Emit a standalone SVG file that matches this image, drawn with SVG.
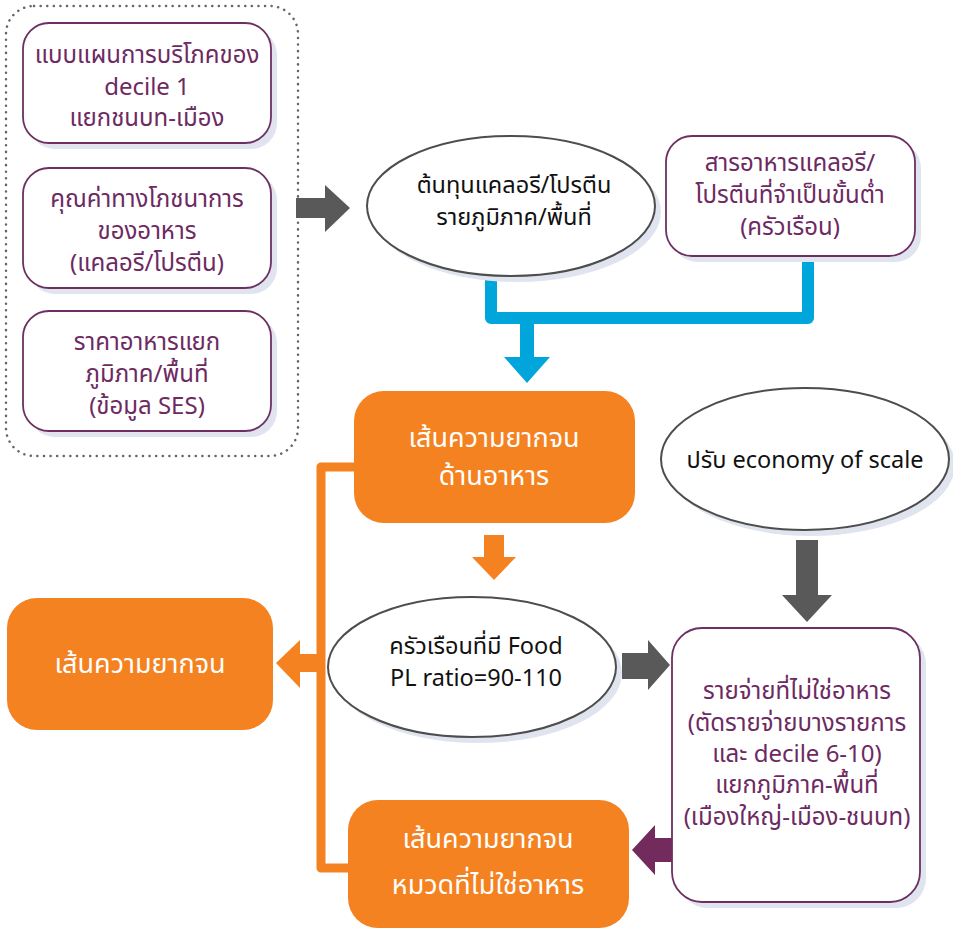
<svg xmlns="http://www.w3.org/2000/svg" width="953" height="930" viewBox="0 0 953 930">
<style>
.pbox{fill:#fff;stroke:#6d2f63;stroke-width:1.8}
.shadow{fill:#dfe4ee}
.ell{fill:#fff;stroke:#4d4d4d;stroke-width:2}
.obox{fill:#f58220}
.t{font-family:"Noto Sans Thai","Noto Sans","Liberation Sans",sans-serif;text-anchor:middle}
.tp{fill:#6d2a62;font-size:24px}
.tb{fill:#111;font-size:23.5px}
.tw{fill:#fff;font-size:27px}
</style>
<rect width="953" height="930" fill="#fff"/>
<g id="container">
<rect x="6" y="6" width="292" height="450" rx="28" fill="none" stroke="#666" stroke-width="2.5" stroke-linecap="round" stroke-dasharray="0.1 6.5"/>
</g>
<g id="n1">
<rect class="shadow" x="29" y="29" width="248" height="120" rx="26"/>
<rect class="pbox" x="23" y="23" width="248" height="120" rx="26"/>
<text class="t tp" x="147" y="63">แบบแผนการบริโภคของ</text>
<text class="t tp" x="147" y="95">decile 1</text>
<text class="t tp" x="147" y="126">แยกชนบท-เมือง</text>
</g>
<g id="n2">
<rect class="shadow" x="29" y="174" width="248" height="120" rx="26"/>
<rect class="pbox" x="23" y="168" width="248" height="120" rx="26"/>
<text class="t tp" x="147" y="207">คุณค่าทางโภชนาการ</text>
<text class="t tp" x="147" y="239">ของอาหาร</text>
<text class="t tp" x="147" y="271">(แคลอรี/โปรตีน)</text>
</g>
<g id="n3">
<rect class="shadow" x="29" y="317" width="248" height="120" rx="26"/>
<rect class="pbox" x="23" y="311" width="248" height="120" rx="26"/>
<text class="t tp" x="147" y="350">ราคาอาหารแยก</text>
<text class="t tp" x="147" y="382">ภูมิภาค/พื้นที่</text>
<text class="t tp" x="147" y="414">(ข้อมูล SES)</text>
</g>
<g id="connectors">
<polygon fill="#595959" points="296,198 325,198 325,185 350,208 325,232 325,218 296,218"/>
<polyline fill="none" stroke="#00a5dc" stroke-width="12" stroke-linejoin="round" points="491,276 491,318 808,318 808,256"/>
<polygon fill="#00a5dc" points="520,318 534,318 534,357 550,357 527,383 504,357 520,357"/>
<polygon fill="#f58220" points="484,535 504,535 504,557 516,557 494,580 472,557 484,557"/>
<polyline fill="none" stroke="#f58220" stroke-width="9" stroke-linejoin="round" points="356,467 321,467 321,868 352,868"/>
<polygon fill="#f58220" points="321,654 300,654 300,640 276,663 300,688 300,672 321,672"/>
<polygon fill="#595959" points="622,653 648,653 648,640 670,665 648,690 648,679 622,679"/>
<polygon fill="#595959" points="796,540 818,540 818,595 832,595 807,622 782,595 796,595"/>
<polygon fill="#722b5c" points="672,838 655,838 655,825 632,850 655,875 655,862 672,862"/>
</g>
<g id="n4">
<ellipse class="shadow" cx="517" cy="212" rx="144" ry="70"/>
<ellipse class="ell" cx="511" cy="206" rx="144" ry="70"/>
<text class="t tb" x="514" y="193">ต้นทุนแคลอรี/โปรตีน</text>
<text class="t tb" x="514" y="225">รายภูมิภาค/พื้นที่</text>
</g>
<g id="n5">
<rect class="shadow" x="672" y="142" width="249" height="120" rx="26"/>
<rect class="pbox" x="666" y="136" width="249" height="120" rx="26"/>
<text class="t tp" x="790" y="171">สารอาหารแคลอรี/</text>
<text class="t tp" x="790" y="203">โปรตีนที่จำเป็นขั้นต่ำ</text>
<text class="t tp" x="790" y="235">(ครัวเรือน)</text>
</g>
<g id="n6">
<rect class="obox" x="354" y="391" width="281" height="132" rx="30"/>
<text class="t tw" x="494" y="447">เส้นความยากจน</text>
<text class="t tw" x="494" y="485">ด้านอาหาร</text>
</g>
<g id="n7">
<ellipse class="shadow" cx="811" cy="465" rx="144" ry="71"/>
<ellipse class="ell" cx="805" cy="459" rx="144" ry="71"/>
<text class="t tb" x="805" y="468">ปรับ economy of scale</text>
</g>
<g id="n8">
<rect class="obox" x="7" y="598" width="266" height="132" rx="30"/>
<text class="t tw" x="140" y="673">เส้นความยากจน</text>
</g>
<g id="n9">
<ellipse class="shadow" cx="478" cy="673" rx="144" ry="70"/>
<ellipse class="ell" cx="472" cy="667" rx="144" ry="70"/>
<text class="t tb" x="476" y="654">ครัวเรือนที่มี Food</text>
<text class="t tb" x="476" y="686">PL ratio=90-110</text>
</g>
<g id="n10">
<rect class="shadow" x="678" y="634" width="248" height="274" rx="30"/>
<rect class="pbox" x="672" y="628" width="248" height="274" rx="30"/>
<text class="t tp" x="797" y="699">รายจ่ายที่ไม่ใช่อาหาร</text>
<text class="t tp" x="797" y="731">(ตัดรายจ่ายบางรายการ</text>
<text class="t tp" x="797" y="762">และ decile 6-10)</text>
<text class="t tp" x="797" y="793">แยกภูมิภาค-พื้นที่</text>
<text class="t tp" x="797" y="825">(เมืองใหญ่-เมือง-ชนบท)</text>
</g>
<g id="n11">
<rect class="obox" x="348" y="800" width="281" height="128" rx="30"/>
<text class="t tw" x="488" y="848">เส้นความยากจน</text>
<text class="t tw" x="488" y="894">หมวดที่ไม่ใช่อาหาร</text>
</g>
</svg>
